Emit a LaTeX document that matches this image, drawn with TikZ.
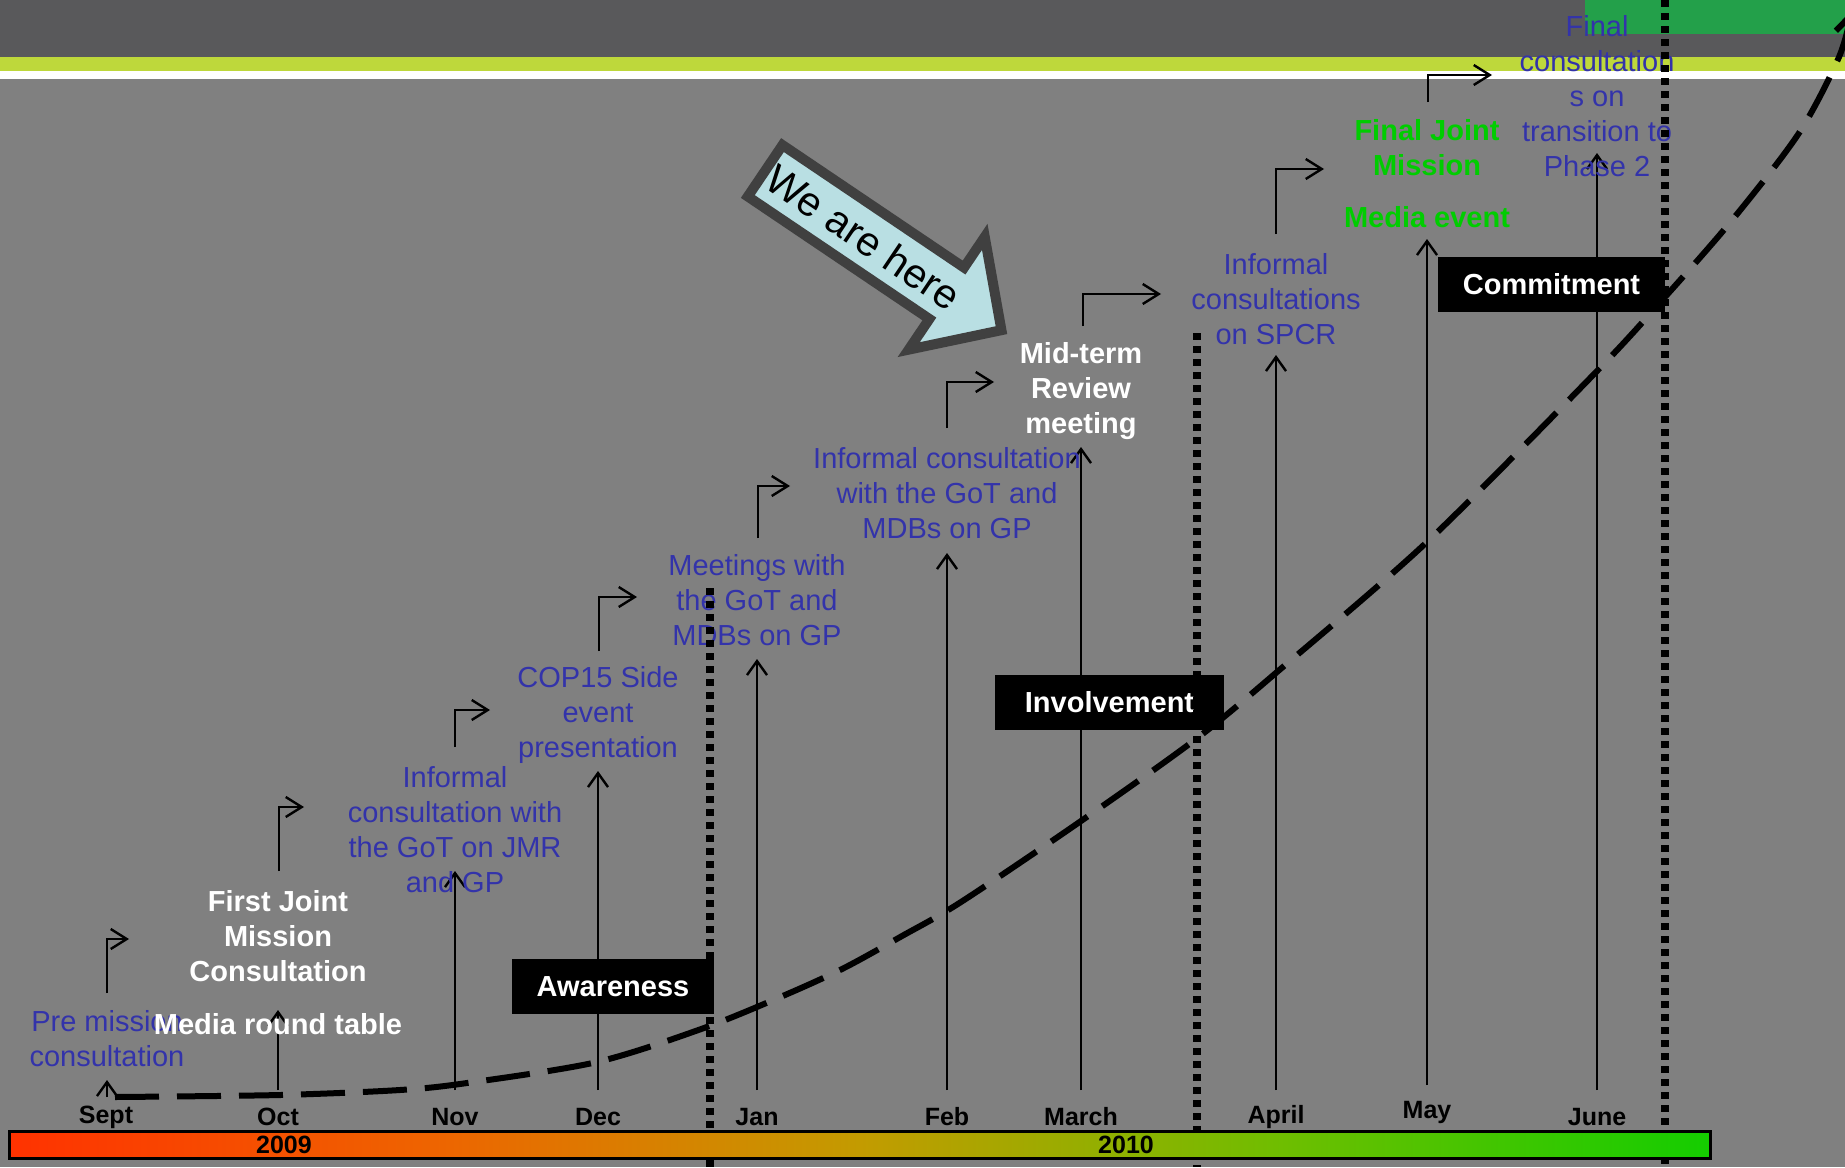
\documentclass[tikz,border=0pt]{standalone}
\usepackage{fontspec}
\setmainfont{Liberation Sans}
\usetikzlibrary{arrows.meta}

\definecolor{slidegray}{RGB}{128,128,128}
\definecolor{topgray}{RGB}{89,89,91}
\definecolor{limebar}{RGB}{190,216,59}
\definecolor{tabgreen}{RGB}{35,160,74}
\definecolor{planblue}{RGB}{51,51,170}
\definecolor{mediagreen}{RGB}{0,205,0}
\definecolor{herefill}{RGB}{185,223,227}
\definecolor{heredark}{RGB}{64,64,64}
\definecolor{barred}{RGB}{255,50,0}
\definecolor{barorange}{RGB}{238,100,0}
\definecolor{barolive}{RGB}{195,155,0}
\definecolor{barlime}{RGB}{110,190,0}
\definecolor{bargreen}{RGB}{20,205,0}
\pgfdeclarehorizontalshading{yearbar}{100bp}{color(0bp)=(barred); color(25bp)=(barred); color(37.5bp)=(barorange); color(50bp)=(barolive); color(62.5bp)=(barlime); color(75bp)=(bargreen); color(100bp)=(bargreen)}

\begin{document}
\begin{tikzpicture}[x=0.5pt,y=-0.5pt,
  lbl/.style={text=planblue,align=center,inner sep=0pt,font=\fontsize{14.5}{17.5}\selectfont},
  wlbl/.style={text=white,align=center,inner sep=0pt,font=\fontsize{14.5}{17.5}\selectfont\bfseries},
  glbl/.style={text=mediagreen,align=center,inner sep=0pt,font=\fontsize{14.5}{17.5}\selectfont\bfseries},
  month/.style={inner sep=0pt,font=\fontsize{12.5}{15}\selectfont\bfseries},
  phase/.style={fill=black,text=white,inner sep=0pt,minimum height=27.5pt,font=\fontsize{14.5}{17.5}\selectfont\bfseries},
  up/.style={line width=1.2pt,-{Straight Barb[length=7pt,width=10pt]}},
  turn/.style={line width=1.2pt,-{Straight Barb[length=8pt,width=10pt]}},
  divider/.style={line width=3.6pt,dash pattern=on 3.5pt off 3pt},
  trend/.style={line width=3pt,dash pattern=on 22pt off 9pt}]

\useasboundingbox (0,0) rectangle (1845,1167);
\clip (0,0) rectangle (1845,1167);

% background
\fill[slidegray] (0,0) rectangle (1845,1167);
\fill[topgray] (0,0) rectangle (1845,57);
\fill[limebar] (0,57) rectangle (1845,71);
\fill[white] (0,71) rectangle (1845,79);
\fill[tabgreen] (1585,0) rectangle (1845,34);

% arrow ends
\coordinate (sept-b) at (107,1097);
\coordinate (sept-t) at (107,1080);
\coordinate (oct-b) at (278,1090);
\coordinate (oct-t) at (278,1010);
\coordinate (nov-b) at (455,1090);
\coordinate (nov-t) at (455,871);
\coordinate (dec-b) at (598,1090);
\coordinate (dec-t) at (598,771);
\coordinate (jan-b) at (757,1090);
\coordinate (jan-t) at (757,659);
\coordinate (feb-b) at (947,1090);
\coordinate (feb-t) at (947,553);
\coordinate (mar-b) at (1081,1090);
\coordinate (mar-t) at (1081,447);
\coordinate (apr-b) at (1276,1090);
\coordinate (apr-t) at (1276,355);
\coordinate (may-b) at (1427,1085);
\coordinate (may-t) at (1427,239);
\coordinate (jun-b) at (1597,1090);
\coordinate (jun-t) at (1597,153);

% bent arrow ends
\coordinate (sept-s) at (107,993);
\coordinate (sept-e) at (129,939);
\coordinate (oct-s) at (279,871);
\coordinate (oct-e) at (304,807);
\coordinate (nov-s) at (455,747);
\coordinate (nov-e) at (490,710);
\coordinate (dec-s) at (599,651);
\coordinate (dec-e) at (637,597);
\coordinate (jan-s) at (758,538);
\coordinate (jan-e) at (790,486);
\coordinate (feb-s) at (947,428);
\coordinate (feb-e) at (994,382);
\coordinate (mar-s) at (1083,326);
\coordinate (mar-e) at (1161,294);
\coordinate (apr-s) at (1276,234);
\coordinate (apr-e) at (1324,169);
\coordinate (may-s) at (1428,102);
\coordinate (may-e) at (1492,75);

% arrows
\draw[up] (sept-b) -- (sept-t);
\draw[up] (oct-b) -- (oct-t);
\draw[up] (nov-b) -- (nov-t);
\draw[up] (dec-b) -- (dec-t);
\draw[up] (jan-b) -- (jan-t);
\draw[up] (feb-b) -- (feb-t);
\draw[up] (mar-b) -- (mar-t);
\draw[up] (apr-b) -- (apr-t);
\draw[up] (may-b) -- (may-t);
\draw[up] (jun-b) -- (jun-t);

\draw[turn] (sept-s) |- (sept-e);
\draw[turn] (oct-s) |- (oct-e);
\draw[turn] (nov-s) |- (nov-e);
\draw[turn] (dec-s) |- (dec-e);
\draw[turn] (jan-s) |- (jan-e);
\draw[turn] (feb-s) |- (feb-e);
\draw[turn] (mar-s) |- (mar-e);
\draw[turn] (apr-s) |- (apr-e);
\draw[turn] (may-s) |- (may-e);

% labels
\node[lbl] (pre) at (107,1039) {Pre mission\\consultation};
\node[wlbl] (fjm) at (278,936) {First Joint\\Mission\\Consultation};
\node[wlbl] (mrt) at (278,1024) {Media round table};
\node[lbl] (jmr) at (455,830) {Informal\\consultation with\\the GoT on JMR\\and GP};
\node[lbl] (cop) at (598,715) {COP15 Side\\event\\presentation};
\node[lbl] (meet) at (757,600) {Meetings with\\the GoT and\\MDBs on GP};
\node[lbl] (mdb) at (947,493) {Informal consultation\\with the GoT and\\MDBs on GP};
\node[wlbl] (mtr) at (1081,391) {Mid-term\\Review\\meeting};
\node[lbl] (spcr) at (1276,299) {Informal\\consultations\\on SPCR};
\node[glbl] (fjm2) at (1427,148) {Final Joint\\Mission};
\node[glbl] (media) at (1427,217) {Media event};
\node[lbl] (final) at (1597,96) {Final\\consultation\\s on\\transition to\\Phase 2};

% phases
\node[phase,minimum width=101pt] (aware) at (613,986.5) {Awareness};
\node[phase,minimum width=114.5pt] (involve) at (1109.5,702.5) {Involvement};
\node[phase,minimum width=113.5pt] (commit) at (1551.5,284) {Commitment};

% dividers
\coordinate (d1-top) at (710,588);
\coordinate (d1-bot) at (710,1167);
\coordinate (d2-top) at (1197,333);
\coordinate (d2-bot) at (1197,1167);
\coordinate (d3-top) at (1665,0);
\coordinate (d3-bot) at (1665,1167);
\draw[divider] (d1-top) -- (d1-bot);
\draw[divider] (d2-top) -- (d2-bot);
\draw[divider] (d3-top) -- (d3-bot);

% trend
\draw[trend,-{Straight Barb[length=9pt,width=12pt]}] plot[smooth,tension=0.5] coordinates {(115,1097) (280,1095) (400,1090) (467,1083) (597,1062) (704,1028) (785,995) (844,968) (902,936) (961,902) (1081,821) (1196,739) (1277,672) (1428,541) (1597,371) (1665,297) (1733,219) (1799,133) (1839,57) (1852,10)};

% year bar
\shadedraw[shading=yearbar,draw=black,line width=1.5pt] (9,1131) rectangle (1710,1158);
\node[month] (y2009) at (284,1145) {2009};
\node[month] (y2010) at (1126,1145) {2010};

% months
\node[month] (m-sept) at (106,1117) {Sept};
\node[month] (m-oct) at (278,1117) {Oct};
\node[month] (m-nov) at (455,1117) {Nov};
\node[month] (m-dec) at (598,1117) {Dec};
\node[month] (m-jan) at (757,1117) {Jan};
\node[month] (m-feb) at (947,1117) {Feb};
\node[month] (m-mar) at (1081,1117) {March};
\node[month] (m-apr) at (1276,1117) {April};
\node[month] (m-may) at (1427,1112) {May};
\node[month] (m-jun) at (1597,1117) {June};

% we are here
\begin{scope}[shift={(761,168)},rotate=-34]
\draw[fill=herefill,draw=heredark,line width=5pt] (5,-31) -- (224,-31) -- (224,-68) -- (290,0) -- (224,68) -- (224,31) -- (5,31) -- cycle;
\node[rotate=-34,inner sep=0pt,font=\fontsize{20.5}{23}\selectfont] (here) at (124,0) {We are here};
\end{scope}
\end{tikzpicture}
\end{document}
